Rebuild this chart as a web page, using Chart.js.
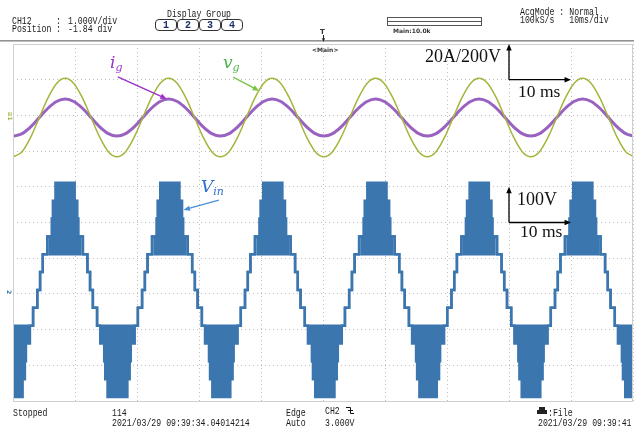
<!DOCTYPE html>
<html>
<head>
<meta charset="utf-8">
<script src="https://cdn.jsdelivr.net/npm/chart.js"></script>
<style>
  body { margin: 0; background: #fff; }
  #wrap { position: relative; width: 634px; height: 430px; overflow: hidden; background: #fff; }
  #scope { position: absolute; left: 0; top: 0; }
  .t { position: absolute; white-space: pre; line-height: 1; }
  .osc { font-family: 'Liberation Mono', monospace; font-size: 10px; color: #1a1a1a; transform: scaleX(0.82); transform-origin: 0 0; }
  .tiny { font-family: 'DejaVu Sans', sans-serif; font-size: 6px; font-weight: bold; color: #333; }
  .serif { font-family: 'Liberation Serif', serif; color: #111; }
  .math { font-family: 'DejaVu Serif', serif; font-style: italic; font-size: 17px; }
  .math span { font-size: 11px; position: relative; top: 3px; }
  .box { position: absolute; top: 19px; width: 20px; height: 10px; border: 1px solid #333; border-radius: 4px;
         text-align: center; line-height: 10px; font: bold 10px 'Liberation Mono', monospace; color: #1d2d6b; }
</style>
</head>
<body>
<div id="wrap">
  <canvas id="scope" width="634" height="430"></canvas>

  <!-- header -->
  <div class="t osc" style="left:12px;top:17.3px">CH12</div>
  <div class="t osc" style="left:56px;top:17.3px">:</div>
  <div class="t osc" style="left:68px;top:17.3px">1.000V/div</div>
  <div class="t osc" style="left:12px;top:24.6px">Position</div>
  <div class="t osc" style="left:56px;top:24.6px">:</div>
  <div class="t osc" style="left:68px;top:24.6px">-1.84 div</div>
  <div class="t osc" style="left:167px;top:9.6px">Display Group</div>
  <div class="box" style="left:155px">1</div>
  <div class="box" style="left:177px">2</div>
  <div class="box" style="left:199px">3</div>
  <div class="box" style="left:221px">4</div>
  <div style="position:absolute;left:387px;top:17px;width:93px;height:7px;border:1px solid #555"></div>
  <div style="position:absolute;left:387px;top:21px;width:95px;height:0;border-top:1px solid #555"></div>
  <div class="t tiny" style="left:393px;top:28px">Main:10.0k</div>
  <div class="t osc" style="left:520px;top:8.3px">AcqMode : Normal</div>
  <div class="t osc" style="left:520px;top:16.3px">100kS/s   10ms/div</div>
  <div class="t tiny" style="left:320px;top:29px;font-size:7px">T</div>
  <div class="t tiny" style="left:312px;top:46.5px">&lt;Main&gt;</div>

  <!-- channel markers -->
  <div class="t tiny" style="left:5px;top:113px;color:#a6b43c;transform:rotate(90deg)">≡1</div>
  <div class="t tiny" style="left:7px;top:289px;color:#3b76af;transform:rotate(90deg)">2</div>

  <!-- annotations -->
  <div class="t math" style="left:110px;top:53.6px;color:#9b2fc9">i<span>g</span></div>
  <div class="t math" style="left:223px;top:53.9px;color:#4cb34a">v<span>g</span></div>
  <div class="t math" style="left:201px;top:177.6px;color:#2f6dcc">V<span>in</span></div>
  <div class="t serif" style="left:425px;top:47.4px;font-size:18px">20A/200V</div>
  <div class="t serif" style="left:518px;top:83.3px;font-size:17.5px">10 ms</div>
  <div class="t serif" style="left:517px;top:189.9px;font-size:18px">100V</div>
  <div class="t serif" style="left:520px;top:223.3px;font-size:17.5px">10 ms</div>

  <!-- footer -->
  <div class="t osc" style="left:12.7px;top:408.6px">Stopped</div>
  <div class="t osc" style="left:111.7px;top:408.6px">114</div>
  <div class="t osc" style="left:111.7px;top:418.6px">2021/03/29 09:39:34.04014214</div>
  <div class="t osc" style="left:286px;top:408.6px">Edge</div>
  <div class="t osc" style="left:286px;top:418.6px">Auto</div>
  <div class="t osc" style="left:325px;top:406.6px">CH2</div>
  <div class="t osc" style="left:325px;top:418.6px">3.000V</div>
  <div class="t osc" style="left:548px;top:408.6px">:File</div>
  <div class="t osc" style="left:538px;top:418.6px">2021/03/29 09:39:41</div>
</div>

<script>
// time base: 10 ms/div, 10 divisions
// sine samples (ms), every 30 degrees starting at a trough
const tSine = [0.08, 1.47, 2.86, 4.25, 5.64, 7.03, 8.42, 9.81, 11.20, 12.59, 13.98, 15.37,
  16.76, 18.16, 19.55, 20.94, 22.33, 23.72, 25.11, 26.50, 27.89, 29.28, 30.67, 32.06,
  33.46, 34.85, 36.24, 37.63, 39.02, 40.41, 41.80, 43.19, 44.58, 45.97, 47.36, 48.75,
  50.15, 51.54, 52.93, 54.32, 55.71, 57.10, 58.49, 59.88, 61.27, 62.66, 64.05, 65.44,
  66.84, 68.23, 69.62, 71.01, 72.40, 73.79, 75.18, 76.57, 77.96, 79.35, 80.74, 82.13,
  83.52, 84.92, 86.31, 87.70, 89.09, 90.48, 91.87, 93.26, 94.65, 96.04, 97.43, 98.82, 100.21];

// grid voltage v_g (V), 200 V/div
const vg = [-220, -191, -110, 0, 110, 191, 220, 191, 110, 0, -110, -191,
  -220, -191, -110, 0, 110, 191, 220, 191, 110, 0, -110, -191,
  -220, -191, -110, 0, 110, 191, 220, 191, 110, 0, -110, -191,
  -220, -191, -110, 0, 110, 191, 220, 191, 110, 0, -110, -191,
  -220, -191, -110, 0, 110, 191, 220, 191, 110, 0, -110, -191,
  -220, -191, -110, 0, 110, 191, 220, 191, 110, 0, -110, -191, -220];

// grid current i_g (A), 20 A/div
const ig = [-10.4, -9.0, -5.2, 0, 5.2, 9.0, 10.4, 9.0, 5.2, 0, -5.2, -9.0,
  -10.4, -9.0, -5.2, 0, 5.2, 9.0, 10.4, 9.0, 5.2, 0, -5.2, -9.0,
  -10.4, -9.0, -5.2, 0, 5.2, 9.0, 10.4, 9.0, 5.2, 0, -5.2, -9.0,
  -10.4, -9.0, -5.2, 0, 5.2, 9.0, 10.4, 9.0, 5.2, 0, -5.2, -9.0,
  -10.4, -9.0, -5.2, 0, 5.2, 9.0, 10.4, 9.0, 5.2, 0, -5.2, -9.0,
  -10.4, -9.0, -5.2, 0, 5.2, 9.0, 10.4, 9.0, 5.2, 0, -5.2, -9.0, -10.4];

// V_in (V), 100 V/div: peak times and one period of the staircase around a peak
const vinPeaks = [8.4, 25.3, 41.9, 58.7, 75.2, 91.9];
const vinOffsets = [-8.33, -6.85, -6.48, -6.31, -5.67, -5.16, -4.48, -4.03, -3.60, -2.87, -2.42, -2.15, -1.97, -1.55,
  1.55, 1.97, 2.15, 2.42, 2.87, 3.60, 4.03, 4.48, 5.16, 5.67, 6.31, 6.48, 6.85];
const vinUpper = [-100, -100, -100, -100, -100, -50, 0, 50, 100, 150, 150, 200, 250, 300,
  250, 200, 150, 150, 100, 50, 0, -50, -100, -100, -100, -100, -100];
const vinLower = [-300, -250, -200, -150, -100, -50, 0, 50, 100, 150, 100, 100, 100, 100,
  100, 100, 100, 150, 100, 50, 0, -50, -100, -150, -200, -250, -300];

const GREEN = '#a6b43c', PURPLE = '#9a62c0', BLUE = '#3b76af';

function vinPoints(levels) {
  const pts = [];
  vinPeaks.forEach((p, i) => {
    vinOffsets.forEach((d, j) => {
      if (j === 0 && i > 0) return;
      pts.push({ x: j === 0 ? 0 : p + d, y: levels[j] });
    });
  });
  pts.push({ x: 100, y: levels[levels.length - 1] });
  return pts;
}

function arrow(ctx, x1, y1, x2, y2, color, w, head) {
  const a = Math.atan2(y2 - y1, x2 - x1);
  ctx.strokeStyle = color; ctx.fillStyle = color; ctx.lineWidth = w;
  ctx.beginPath(); ctx.moveTo(x1, y1);
  ctx.lineTo(x2 - Math.cos(a) * head * 0.8, y2 - Math.sin(a) * head * 0.8); ctx.stroke();
  ctx.beginPath(); ctx.moveTo(x2, y2);
  ctx.lineTo(x2 - head * Math.cos(a - 0.4), y2 - head * Math.sin(a - 0.4));
  ctx.lineTo(x2 - head * Math.cos(a + 0.4), y2 - head * Math.sin(a + 0.4));
  ctx.closePath(); ctx.fill();
}

const decor = {
  id: 'decor',
  afterDraw(chart) {
    const ctx = chart.ctx, a = chart.chartArea, sx = chart.scales.x, sy = chart.scales.y;
    const X = v => sx.getPixelForValue(v), Y = v => sy.getPixelForValue(v);
    ctx.save();
    // header separator and frame
    ctx.fillStyle = '#929292'; ctx.fillRect(0, 40, 634, 1.6);
    ctx.strokeStyle = '#cfcfcf'; ctx.lineWidth = 1;
    ctx.strokeRect(a.left + 0.5, a.top + 0.5, a.right - a.left - 1, a.bottom - a.top);
    // trigger marker
    arrow(ctx, 323.5, 35, 323.5, 42, '#222', 1, 4);
    // scale bars
    arrow(ctx, X(80), Y(9), X(80), Y(10), '#000', 1.3, 7);
    arrow(ctx, X(80), Y(9), X(90), Y(9), '#000', 1.3, 7);
    arrow(ctx, X(80), Y(5), X(80), Y(6), '#000', 1.3, 7);
    arrow(ctx, X(80), Y(5), X(90), Y(5), '#000', 1.3, 7);
    // pointer arrows
    arrow(ctx, X(16.9), Y(9.08), X(24.8), Y(8.46), '#9b2fc9', 1.3, 7);
    arrow(ctx, X(35.5), Y(9.07), X(39.7), Y(8.69), '#79c54a', 1.3, 7);
    arrow(ctx, X(33.2), Y(5.63), X(27.5), Y(5.35), '#4a90d9', 1.3, 7);
    // trigger edge icon
    ctx.strokeStyle = '#111'; ctx.lineWidth = 1;
    ctx.beginPath(); ctx.moveTo(346, 407.5); ctx.lineTo(350.5, 407.5); ctx.lineTo(350.5, 413.5); ctx.lineTo(354, 413.5); ctx.stroke();
    ctx.beginPath(); ctx.moveTo(348, 410.5); ctx.lineTo(353, 410.5); ctx.stroke();
    // file icon
    ctx.fillStyle = '#222';
    ctx.fillRect(539, 407, 6, 3); ctx.fillRect(537, 410, 10, 4);
    ctx.restore();
  }
};

const gridOpts = { color: '#bdbdbd', lineWidth: 1, drawTicks: false };

new Chart(document.getElementById('scope'), {
  type: 'line',
  data: {
    datasets: [
      { label: 'Vin', data: vinPoints(vinUpper), yAxisID: 'yV', borderColor: BLUE, borderWidth: 2.5,
        stepped: true, pointRadius: 0, fill: false },
      { label: 'Vin switching', data: vinPoints(vinLower), yAxisID: 'yV', borderColor: BLUE, borderWidth: 2.5,
        stepped: true, pointRadius: 0, fill: '-1', backgroundColor: BLUE },
      { label: 'vg', data: tSine.map((t, i) => ({ x: t, y: vg[i] })), yAxisID: 'yG', borderColor: GREEN,
        borderWidth: 1.5, pointRadius: 0, cubicInterpolationMode: 'monotone' },
      { label: 'ig', data: tSine.map((t, i) => ({ x: t, y: ig[i] })), yAxisID: 'yI', borderColor: PURPLE,
        borderWidth: 3, pointRadius: 0, cubicInterpolationMode: 'monotone' }
    ]
  },
  options: {
    responsive: false,
    animation: false,
    devicePixelRatio: 1,
    layout: { padding: { left: 13, right: 1, top: 44, bottom: 29 } },
    plugins: { legend: { display: false }, tooltip: { enabled: false } },
    scales: {
      x: { type: 'linear', min: 0, max: 100, ticks: { display: false, stepSize: 10 },
           grid: gridOpts, border: { display: false, dash: [1, 3] } },
      y: { min: 0, max: 10, ticks: { display: false, stepSize: 1 },
           grid: gridOpts, border: { display: false, dash: [1, 3] } },
      yG: { display: false, min: -1588, max: 412 },
      yI: { display: false, min: -158.8, max: 41.2 },
      yV: { display: false, min: -311, max: 689 }
    }
  },
  plugins: [decor]
});
</script>
</body>
</html>
